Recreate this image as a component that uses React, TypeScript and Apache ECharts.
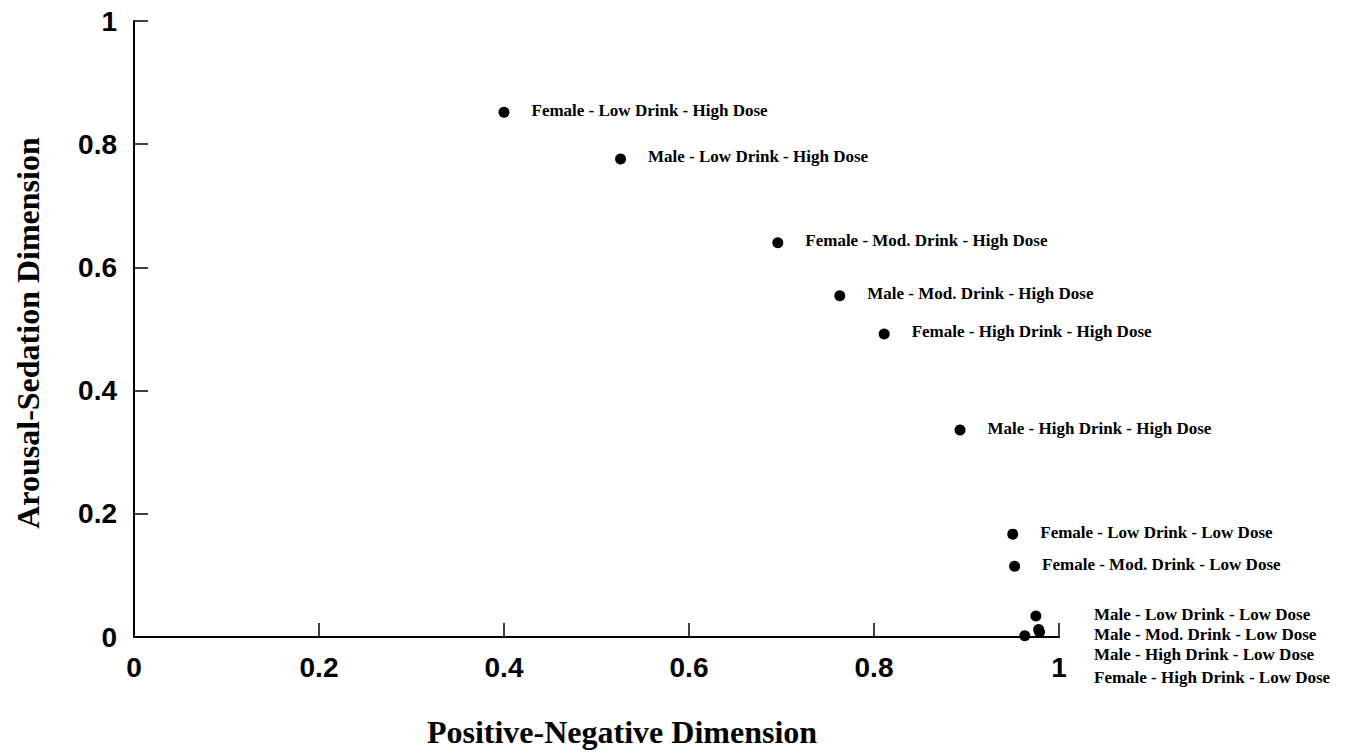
import React, { useEffect, useRef } from "react";
import * as echarts from "echarts";

const groups = [
  "Female - Low Drink - High Dose",
  "Male - Low Drink - High Dose",
  "Female - Mod. Drink - High Dose",
  "Male - Mod. Drink - High Dose",
  "Female - High Drink - High Dose",
  "Male - High Drink - High Dose",
  "Female - Low Drink - Low Dose",
  "Female - Mod. Drink - Low Dose",
  "Male - Low Drink - Low Dose",
  "Male - Mod. Drink - Low Dose",
  "Male - High Drink - Low Dose",
  "Female - High Drink - Low Dose",
];
const positiveNegative = [0.4, 0.526, 0.696, 0.763, 0.811, 0.893, 0.95, 0.952, 0.975, 0.978, 0.963, 0.979];
const arousalSedation = [0.852, 0.776, 0.64, 0.554, 0.492, 0.336, 0.167, 0.115, 0.034, 0.012, 0.002, 0.008];
// labels for the crowded low-dose cluster are listed beside it rather than next to each dot
const clusterLabels = groups.slice(8);

export default function App() {
  const ref = useRef<HTMLDivElement>(null);
  useEffect(() => {
    if (!ref.current) return;
    const chart = echarts.init(ref.current, null, { renderer: "svg" });
    const serif = "'Liberation Serif', 'Times New Roman', serif";
    const sans = "'Liberation Sans', Arial, sans-serif";
    const data = groups.map((g, i) => ({
      name: g,
      value: [positiveNegative[i], arousalSedation[i]],
      label: { show: i < 8 },
    }));
    chart.setOption({
      animation: false,
      backgroundColor: "#fff",
      grid: { left: 134, right: 295, top: 21, bottom: 117 },
      xAxis: {
        type: "value",
        min: 0,
        max: 1,
        interval: 0.2,
        name: "Positive-Negative Dimension",
        nameLocation: "middle",
        nameGap: 79,
        nameTextStyle: { fontFamily: serif, fontWeight: "bold", fontSize: 32, color: "#000", padding: [0, 0, 0, 51] },
        axisLine: { show: true, lineStyle: { color: "#000", width: 2 } },
        axisTick: { show: true, inside: true, length: 14, lineStyle: { color: "#000", width: 1.5 } },
        axisLabel: { fontFamily: sans, fontWeight: "bold", fontSize: 28, color: "#000", margin: 16 },
        splitLine: { show: false },
      },
      yAxis: {
        type: "value",
        min: 0,
        max: 1,
        interval: 0.2,
        name: "Arousal-Sedation Dimension",
        nameLocation: "middle",
        nameGap: 90,
        nameTextStyle: { fontFamily: serif, fontWeight: "bold", fontSize: 32, color: "#000", padding: [0, 8, 0, 0] },
        axisLine: { show: true, lineStyle: { color: "#000", width: 2 } },
        axisTick: { show: true, inside: true, length: 14, lineStyle: { color: "#000", width: 1.5 } },
        axisLabel: { fontFamily: sans, fontWeight: "bold", fontSize: 28, color: "#000", margin: 17 },
        splitLine: { show: false },
      },
      series: [
        {
          type: "scatter",
          symbol: "circle",
          symbolSize: 11,
          itemStyle: { color: "#000", opacity: 1 },
          data,
          label: {
            position: "right",
            distance: 22,
            offset: [0, -2],
            formatter: "{b}",
            fontFamily: serif,
            fontWeight: "bold",
            fontSize: 17,
            color: "#000",
          },
        },
      ],
      graphic: clusterLabels.map((t, i) => ({
        type: "text",
        left: 1094,
        top: 606 + i * 20 + (i === 3 ? 3 : 0),
        style: { text: t, fontFamily: serif, fontWeight: "bold", fontSize: 17, fill: "#000" },
      })),
    });
    return () => chart.dispose();
  }, []);
  return <div ref={ref} style={{ position: "fixed", left: 0, top: 0, width: 1354, height: 754 }} />;
}
